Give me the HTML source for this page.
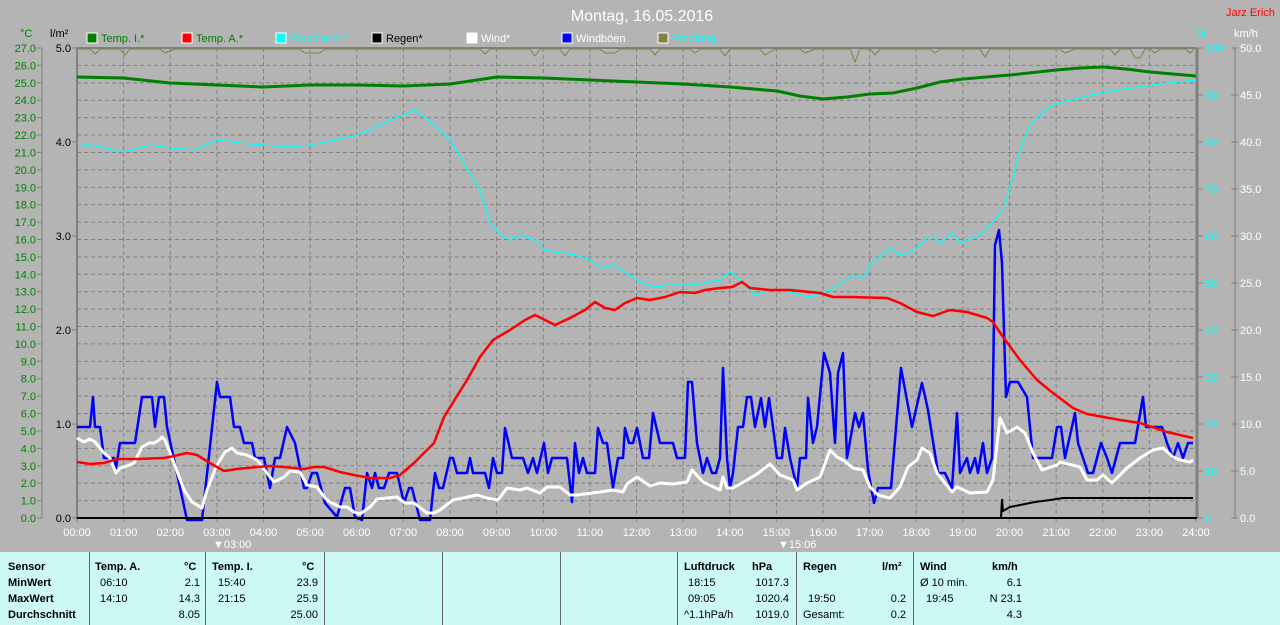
<!DOCTYPE html>
<html><head><meta charset="utf-8"><style>
body{margin:0;background:#b4b4b4;width:1280px;height:625px;overflow:hidden;font-family:"Liberation Sans",sans-serif}
svg{position:absolute;left:0;top:0}
#panel{position:absolute;left:0;top:552px;width:1280px;height:73px;background:#ccf9f5;font-size:11px;color:#000}
.d{position:absolute;top:0;height:73px;width:1px;background:#666}
.t{position:absolute;white-space:nowrap}
.b{font-weight:bold}
</style></head><body>
<svg id="s" width="1280" height="552" font-family="Liberation Sans, sans-serif">
<rect x="77" y="48" width="1120" height="470" fill="#b4b4b4"/>
<g id="grid" stroke="#808080" stroke-dasharray="4,3" stroke-width="1"></g>
<g id="ax"></g>
<text x="642" y="21" fill="#fff" font-size="16" text-anchor="middle">Montag, 16.05.2016</text>
<text x="1226" y="16" fill="#f00" font-size="11">Jarz Erich</text>
<text x="20" y="37" fill="#008000" font-size="11">°C</text>
<text x="50" y="37" fill="#000" font-size="11">l/m²</text>
<text x="1196" y="37" fill="#0ff" font-size="11">%</text>
<text x="1234" y="37" fill="#fff" font-size="11">km/h</text>
<g font-size="11">
<rect x="87" y="33" width="10" height="10" fill="#008000" stroke="#fff"/><text x="101" y="42" fill="#008000">Temp. I.*</text>
<rect x="182" y="33" width="10" height="10" fill="#f00" stroke="#fff"/><text x="196" y="42" fill="#008000">Temp. A.*</text>
<rect x="276" y="33" width="10" height="10" fill="#0ff" stroke="#fff"/><text x="290" y="42" fill="#0ff">Feuchte A.*</text>
<rect x="372" y="33" width="10" height="10" fill="#000" stroke="#fff"/><text x="386" y="42" fill="#000">Regen*</text>
<rect x="467" y="33" width="10" height="10" fill="#fff" stroke="#fff"/><text x="481" y="42" fill="#fff">Wind*</text>
<rect x="562" y="33" width="10" height="10" fill="#00f" stroke="#fff"/><text x="576" y="42" fill="#fff">Windböen</text>
<rect x="658" y="33" width="10" height="10" fill="#808040" stroke="#fff"/><text x="672" y="42" fill="#0ff">Empfang</text>
</g>
<line x1="77" y1="48" x2="1197" y2="48" stroke="#808080" stroke-width="2"/>
<polyline fill="none" stroke="#808040" stroke-width="1" points="77,49 90,49 95,54 100,49 120,49 125,55 130,49 160,49 165,53 175,49 300,49 305,53 320,53 325,49 480,49 485,54 490,49 530,49 535,56 540,49 560,49 565,56 570,49 600,49 605,53 615,53 620,49 650,49 655,55 660,49 690,49 695,53 700,49 720,49 725,56 730,49 760,49 765,55 775,49 800,49 805,53 815,49 850,49 855,62 860,49 870,49 875,55 880,49 930,49 935,53 940,49 980,49 985,57 990,49 1060,49 1065,53 1075,49 1110,49 1115,55 1120,49 1130,49 1135,58 1140,58 1145,49 1150,49 1155,53 1160,49 1186,49 1190,53 1194,49"/>
<polyline fill="none" stroke="#008000" stroke-width="3" points="77,77 124,78 170,83 217,85 263,87 310,85 357,85 403,86 450,84 497,77 543,78 590,80 637,82 683,84 730,87 777,91 800,96 823,99 847,97 870,94 893,93 917,88 940,82 963,79 1010,75 1056,70 1080,68 1103,67 1126,69 1150,72 1196,76"/>
<polyline fill="none" stroke="#0ff" stroke-width="1.3" points="77,143 100,147 124,152 150,145 170,148 195,150 217,140 240,143 263,145 290,147 310,145 335,140 357,135 380,125 403,115 415,110 430,122 450,140 465,165 480,190 490,222 500,235 510,240 520,235 535,240 545,250 560,253 575,255 590,260 600,268 615,265 625,272 640,282 655,287 670,285 690,285 705,283 720,280 730,272 740,280 755,295 770,290 790,292 800,295 810,297 820,293 830,290 843,282 853,275 863,278 872,263 880,257 890,248 900,255 907,253 917,248 927,238 933,237 940,243 953,233 960,243 973,238 983,233 995,220 1003,210 1012,180 1020,150 1030,125 1045,110 1060,102 1080,98 1100,93 1130,88 1160,84 1196,80"/>
<polyline fill="none" stroke="#00f" stroke-width="2.5" stroke-linejoin="round" points="77,427 90,427 93,397 95,427 100,427 104,458 114,458 116,468 120,443 135,443 142,397 152,397 155,427 159,397 164,397 167,427 187,520 202,520 217,382 220,397 230,397 234,427 240,427 244,443 252,443 255,458 264,458 270,488 275,458 280,458 287,427 295,443 304,488 307,488 312,473 317,473 325,503 337,517 345,488 350,488 355,517 362,520 367,473 372,488 375,473 379,488 384,488 389,473 397,473 404,503 409,488 412,488 420,520 430,520 435,473 439,488 443,488 450,458 453,458 457,473 467,473 470,458 473,473 485,473 489,488 493,458 497,473 502,473 505,428 512,458 523,458 528,473 533,458 537,473 544,443 548,473 552,458 567,458 572,502 575,443 579,473 583,458 587,473 595,473 598,428 603,443 607,443 613,488 618,458 623,458 625,428 629,443 633,443 637,428 643,458 649,458 653,413 660,443 673,443 677,458 685,458 688,382 692,382 697,443 703,473 707,458 712,473 716,473 720,458 723,368 727,458 730,488 733,473 738,427 743,427 747,397 751,397 755,427 761,398 765,427 769,398 773,427 777,458 782,458 785,428 790,458 797,488 800,458 806,458 808,398 813,443 817,427 824,353 830,373 835,443 838,373 843,353 847,458 855,413 859,427 863,413 868,470 874,503 878,488 891,488 901,368 912,427 922,383 928,410 938,473 945,473 952,488 957,413 960,473 967,458 970,473 975,458 978,473 983,443 987,473 992,458 995,245 999,230 1002,263 1006,397 1010,382 1018,382 1027,397 1033,458 1052,458 1057,427 1061,427 1065,458 1075,413 1078,443 1088,473 1093,473 1101,443 1107,458 1112,473 1120,443 1135,443 1143,397 1146,427 1162,427 1167,443 1173,458 1178,443 1183,458 1188,443 1193,443"/>
<polyline fill="none" stroke="#fff" stroke-width="3" stroke-linejoin="round" points="77,438 84,442 90,439 95,442 104,453 110,458 116,473 120,468 127,466 134,463 139,453 142,447 149,443 154,443 159,440 162,437 165,440 174,463 184,490 192,502 202,508 207,490 217,465 225,452 232,448 237,453 247,455 257,460 267,473 274,482 284,477 290,471 300,472 307,485 317,487 325,498 330,502 340,507 347,507 354,512 360,514 370,507 377,499 387,498 397,497 405,503 414,503 427,513 434,513 440,510 453,500 463,498 477,495 487,498 498,500 507,488 520,490 527,488 540,493 547,487 560,487 570,495 577,495 600,492 613,490 623,492 627,484 637,477 650,486 660,483 673,484 687,482 692,470 703,482 720,490 723,477 727,488 733,488 747,480 757,474 770,464 780,475 793,480 797,490 807,483 820,477 830,450 837,457 843,460 853,468 863,470 870,487 878,495 890,498 900,487 908,467 917,460 922,448 930,453 937,473 952,492 957,487 970,493 987,492 993,480 1000,418 1007,433 1017,427 1025,433 1033,453 1042,470 1057,465 1060,462 1080,467 1087,480 1097,480 1103,475 1112,483 1127,468 1140,458 1153,450 1163,448 1173,457 1180,460 1190,462 1193,460"/>
<polyline fill="none" stroke="#f00" stroke-width="2.5" stroke-linejoin="round" points="77,462 90,464 104,463 117,459 137,459 164,458 174,456 187,453 197,455 210,463 224,471 237,469 257,467 270,466 284,467 304,469 314,467 324,467 340,472 354,475 370,478 390,478 400,475 414,463 434,443 444,417 457,396 467,380 480,357 493,340 510,330 525,320 535,315 545,320 555,325 570,318 585,310 595,302 605,308 615,310 625,303 637,298 650,300 665,297 680,292 695,293 705,290 720,288 732,287 742,282 750,288 770,290 790,290 810,292 820,293 833,297 850,297 887,298 900,303 917,312 933,316 950,310 967,312 987,318 993,322 1003,337 1020,360 1037,380 1053,393 1073,408 1087,414 1120,420 1140,423 1167,432 1193,438"/>
<line x1="77" y1="518" x2="1197" y2="518" stroke="#000" stroke-width="2"/>
<polyline fill="none" stroke="#000" stroke-width="2" points="1001,518 1002,499 1003,511 1010,507 1020,505 1035,502 1050,500 1063,498 1193,498"/>
<text x="213" y="548" fill="#fff" font-size="11">▼03:00</text>
<text x="778" y="548" fill="#fff" font-size="11">▼15:06</text>
</svg>
<div id="panel">
<div class="d" style="left:89px"></div><div class="d" style="left:205px"></div><div class="d" style="left:324px"></div><div class="d" style="left:442px"></div><div class="d" style="left:560px"></div><div class="d" style="left:677px"></div><div class="d" style="left:796px"></div><div class="d" style="left:913px"></div>
<div class="t b" style="left:8px;top:9px">Sensor</div><div class="t b" style="left:8px;top:25px">MinWert</div><div class="t b" style="left:8px;top:41px">MaxWert</div><div class="t b" style="left:8px;top:57px">Durchschnitt</div>
<div class="t b" style="left:95px;top:9px">Temp. A.</div><div class="t b" style="left:184px;top:9px">°C</div>
<div class="t" style="left:100px;top:25px">06:10</div><div class="t" style="left:100px;top:41px">14:10</div>
<div class="t" style="right:1080px;top:25px">2.1</div><div class="t" style="right:1080px;top:41px">14.3</div><div class="t" style="right:1080px;top:57px">8.05</div>
<div class="t b" style="left:212px;top:9px">Temp. I.</div><div class="t b" style="left:302px;top:9px">°C</div>
<div class="t" style="left:218px;top:25px">15:40</div><div class="t" style="left:218px;top:41px">21:15</div>
<div class="t" style="right:962px;top:25px">23.9</div><div class="t" style="right:962px;top:41px">25.9</div><div class="t" style="right:962px;top:57px">25.00</div>
<div class="t b" style="left:684px;top:9px">Luftdruck</div><div class="t b" style="left:752px;top:9px">hPa</div>
<div class="t" style="left:688px;top:25px">18:15</div><div class="t" style="left:688px;top:41px">09:05</div><div class="t" style="left:684px;top:57px">^1.1hPa/h</div>
<div class="t" style="right:491px;top:25px">1017.3</div><div class="t" style="right:491px;top:41px">1020.4</div><div class="t" style="right:491px;top:57px">1019.0</div>
<div class="t b" style="left:803px;top:9px">Regen</div><div class="t b" style="left:882px;top:9px">l/m²</div>
<div class="t" style="left:808px;top:41px">19:50</div><div class="t" style="left:803px;top:57px">Gesamt:</div>
<div class="t" style="right:374px;top:41px">0.2</div><div class="t" style="right:374px;top:57px">0.2</div>
<div class="t b" style="left:920px;top:9px">Wind</div><div class="t b" style="left:992px;top:9px">km/h</div>
<div class="t" style="left:920px;top:25px">Ø 10 min.</div><div class="t" style="left:926px;top:41px">19:45</div>
<div class="t" style="right:258px;top:25px">6.1</div><div class="t" style="right:258px;top:41px">N 23.1</div><div class="t" style="right:258px;top:57px">4.3</div>
</div>
<script>
var g=document.getElementById('grid'),a=document.getElementById('ax'),NS='http://www.w3.org/2000/svg';
function el(p,t,at,tx){var e=document.createElementNS(NS,t);for(var k in at)e.setAttribute(k,at[k]);if(tx!=null)e.textContent=tx;p.appendChild(e);return e;}
var hw=(1196-77)/24;
for(var h=1;h<24;h++){var x=77+h*hw;el(g,'line',{x1:x,y1:48,x2:x,y2:518});}
for(var i=1;i<27;i++){var y=518-i*470/27;el(g,'line',{x1:77,y1:y,x2:1196,y2:y});}
for(var h=0;h<=24;h++){var x=77+h*hw;el(a,'line',{x1:x,y1:518,x2:x,y2:522,stroke:'#808080'});el(a,'text',{x:x,y:536,fill:'#fff','font-size':11,'text-anchor':'middle'},(h<10?'0':'')+h+':00');}
el(a,'line',{x1:42,y1:48,x2:42,y2:518,stroke:'#808080'});
for(var i=0;i<=27;i++){var y=518-i*470/27;el(a,'line',{x1:37,y1:y,x2:42,y2:y,stroke:'#808080'});el(a,'text',{x:36,y:y+4,fill:'#008000','font-size':11,'text-anchor':'end'},i.toFixed(1));}
el(a,'line',{x1:77,y1:48,x2:77,y2:518,stroke:'#808080','stroke-width':2});
for(var i=0;i<=5;i++){var y=518-i*94;el(a,'line',{x1:72,y1:y,x2:77,y2:y,stroke:'#808080'});el(a,'text',{x:71,y:y+4,fill:'#000','font-size':11,'text-anchor':'end'},i.toFixed(1));}
el(a,'line',{x1:1197,y1:48,x2:1197,y2:518,stroke:'#808080','stroke-width':3});
for(var i=0;i<=10;i++){var y=518-i*47;el(a,'line',{x1:1198,y1:y,x2:1203,y2:y,stroke:'#808080'});el(a,'text',{x:1205,y:y+4,fill:'#0ff','font-size':11},String(i*10));}
el(a,'line',{x1:1235,y1:48,x2:1235,y2:518,stroke:'#808080'});
for(var i=0;i<=10;i++){var y=518-i*47;el(a,'line',{x1:1231,y1:y,x2:1238,y2:y,stroke:'#808080'});el(a,'text',{x:1240,y:y+4,fill:'#fff','font-size':11},(i*5).toFixed(1));}
</script>
</body></html>
